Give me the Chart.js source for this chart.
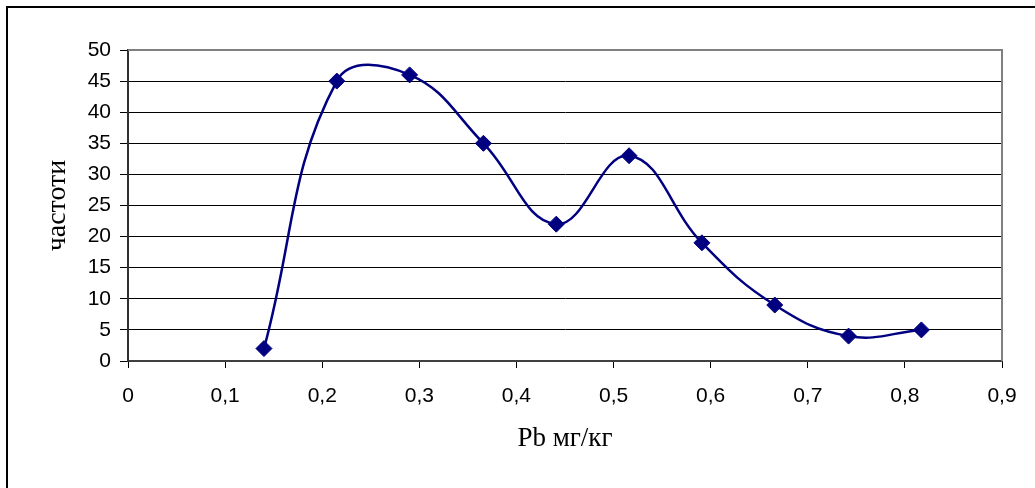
<!DOCTYPE html>
<html>
<head>
<meta charset="utf-8">
<script src="https://cdn.jsdelivr.net/npm/chart.js@4.4.1/dist/chart.umd.min.js"></script>
<style>
  html, body { margin: 0; padding: 0; background: #fff; }
  #wrap { position: relative; width: 1035px; height: 488px; overflow: hidden; }
  #frame { position: absolute; left: 6px; top: 6px; width: 1100px; height: 600px;
           border-left: 2px solid #000; border-top: 2px solid #000; }
  canvas { position: absolute; left: 0; top: 0; }
</style>
</head>
<body>
<div id="wrap">
  <div id="frame"></div>
  <canvas id="chart" width="1035" height="488"></canvas>
</div>
<script>
// data
const pbValues = [0.14, 0.215, 0.29, 0.366, 0.441, 0.516, 0.591, 0.666, 0.742, 0.817];
const frequencies = [2, 45, 46, 35, 22, 33, 19, 9, 4, 5];
const xTicks = [0, 0.1, 0.2, 0.3, 0.4, 0.5, 0.6, 0.7, 0.8, 0.9];
const xTickLabels = ['0', '0,1', '0,2', '0,3', '0,4', '0,5', '0,6', '0,7', '0,8', '0,9'];
const yTicks = [0, 5, 10, 15, 20, 25, 30, 35, 40, 45, 50];

// grey border on the top and right of the plot area
const plotBorder = {
    id: 'plotBorder',
    afterDraw(chart) {
        const { ctx, chartArea: a } = chart;
        ctx.save();
        ctx.strokeStyle = '#808080';
        ctx.lineWidth = 2;
        ctx.beginPath();
        ctx.moveTo(a.left, a.top);
        ctx.lineTo(a.right, a.top);
        ctx.lineTo(a.right, a.bottom);
        ctx.stroke();
        ctx.restore();
    }
};

const ctx = document.getElementById('chart').getContext('2d');
new Chart(ctx, {
    type: 'scatter',
    data: {
        datasets: [{
            data: pbValues.map((x, i) => ({ x: x, y: frequencies[i] })),
            showLine: true,
            tension: 0.42,
            borderColor: '#000080',
            borderWidth: 2.5,
            backgroundColor: '#000080',
            pointStyle: 'rectRot',
            pointRadius: 8,
            pointBorderWidth: 1,
            pointBorderColor: '#000080',
            pointBackgroundColor: '#000080',
            clip: false
        }]
    },
    options: {
        responsive: false,
        animation: false,
        layout: { padding: { left: 0, right: 33, top: 50, bottom: 27 } },
        plugins: {
            legend: { display: false },
            tooltip: { enabled: false }
        },
        scales: {
            x: {
                type: 'linear',
                min: 0,
                max: 0.9,
                afterBuildTicks: s => { s.ticks = xTicks.map(v => ({ value: v })); },
                afterFit: s => { s.height = 100; },
                grid: { drawOnChartArea: false, drawTicks: true, tickLength: 7, color: '#000', lineWidth: 1 },
                border: { display: true, color: '#404040', width: 2 },
                ticks: {
                    padding: 16,
                    color: '#000',
                    font: { family: 'Liberation Sans, Arial, sans-serif', size: 21 },
                    maxRotation: 0,
                    callback: (v, i) => xTickLabels[i]
                },
                title: {
                    display: true,
                    text: 'Pb мг/кг',
                    color: '#000',
                    font: { family: 'Liberation Serif, Times New Roman, serif', size: 27, weight: 'normal' },
                    padding: { top: 0, bottom: 6 }
                }
            },
            y: {
                min: 0,
                max: 50,
                afterBuildTicks: s => { s.ticks = yTicks.map(v => ({ value: v })); },
                afterFit: s => { s.width = 128; },
                grid: { drawTicks: true, tickLength: 8, color: '#000', lineWidth: 1 },
                border: { display: true, color: '#303030', width: 2 },
                ticks: {
                    padding: 9,
                    color: '#000',
                    font: { family: 'Liberation Sans, Arial, sans-serif', size: 21 }
                },
                title: {
                    display: true,
                    text: 'частоти',
                    color: '#000',
                    font: { family: 'Liberation Serif, Times New Roman, serif', size: 28, weight: 'normal' },
                    padding: { top: 41, bottom: 0 }
                }
            }
        }
    },
    plugins: [plotBorder]
});
</script>
</body>
</html>
